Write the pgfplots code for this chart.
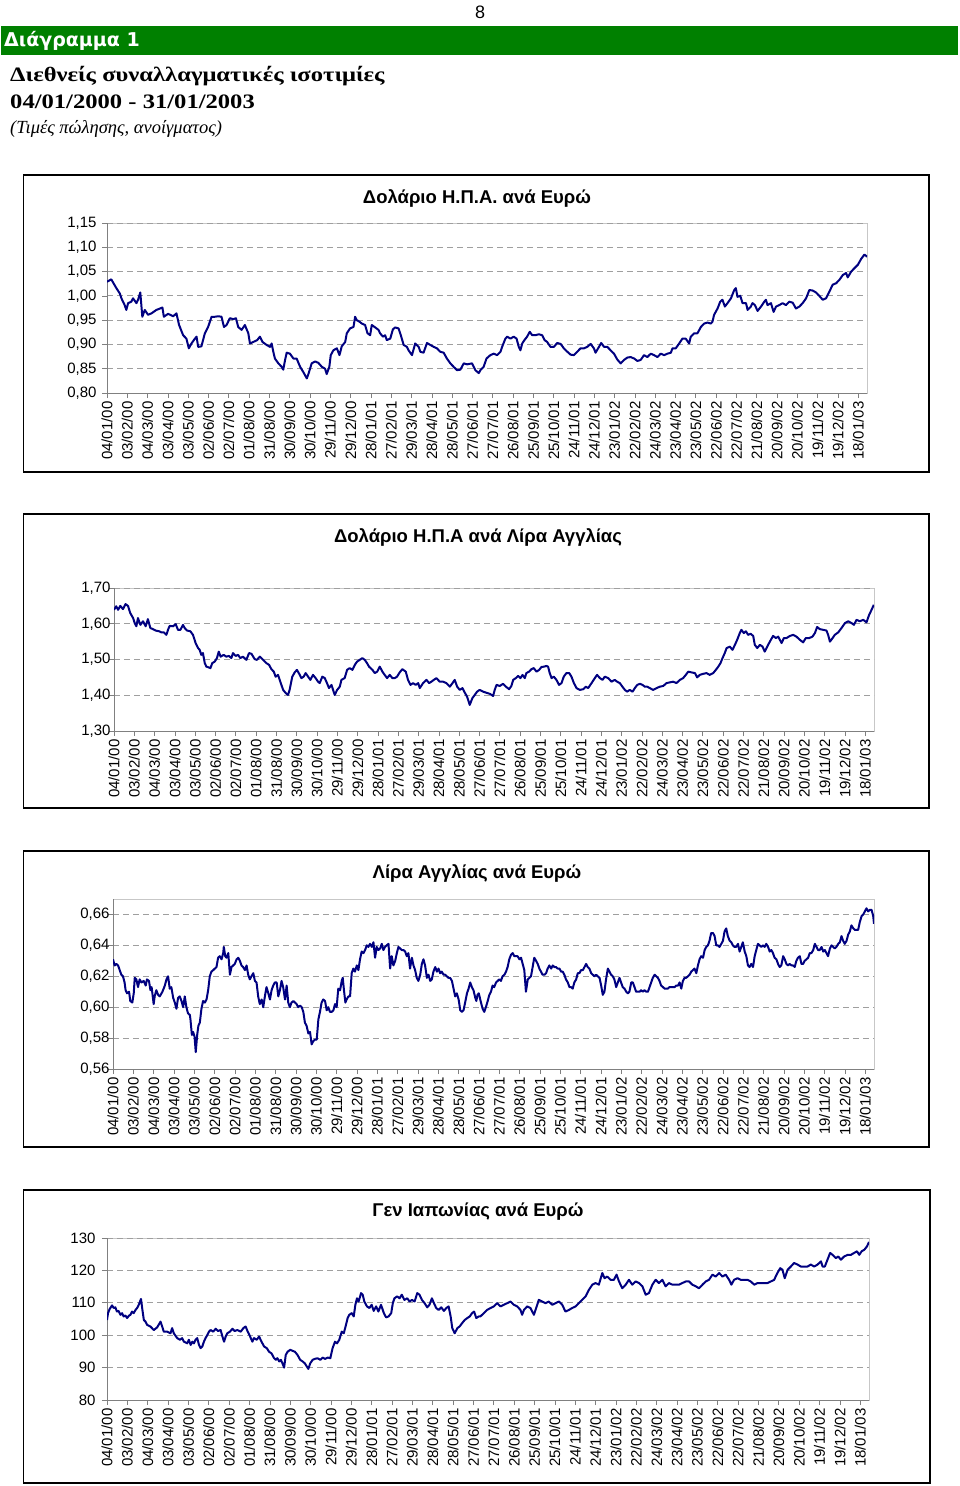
\documentclass[border=0pt]{standalone}
\usepackage{fontspec}
\usepackage{pgfplots}
\pgfplotsset{compat=1.18}

\newfontfamily\arial{Liberation Sans}
\newfontfamily\dejavu{DejaVu Sans}
\newfontfamily\tnr[FakeStretch=1.2]{Liberation Serif}
\newfontfamily\tnri{Liberation Serif}
\newcommand\tickfont{\arial\fontsize{15}{15}\selectfont}
\newcommand\titlefont{\arial\bfseries\fontsize{18.5}{18.5}\selectfont}

\definecolor{navy}{RGB}{0,0,128}
\definecolor{hdrgreen}{RGB}{0,128,0}

\pgfplotsset{
  fx/.style={
    scale only axis, width=760pt,
    xmin=0, xmax=37.43,
    axis x line*=bottom, axis y line*=left,
    axis line style={-, draw=gray, line width=0.8pt},
    axis background/.style={draw=black!22, line width=0.8pt},
    tick pos=left, tick align=outside, major tick length=5pt,
    tick style={draw=gray, line width=0.7pt},
    ymajorgrids,
    major grid style={draw=gray!75, line width=0.8pt, dash pattern=on 6pt off 4pt},
    xtick={0,...,37},
    xticklabels={04/01/00,03/02/00,04/03/00,03/04/00,03/05/00,02/06/00,02/07/00,01/08/00,31/08/00,30/09/00,30/10/00,29/11/00,29/12/00,28/01/01,27/02/01,29/03/01,28/04/01,28/05/01,27/06/01,27/07/01,26/08/01,25/09/01,25/10/01,24/11/01,24/12/01,23/01/02,22/02/02,24/03/02,23/04/02,23/05/02,22/06/02,22/07/02,21/08/02,20/09/02,20/10/02,19/11/02,19/12/02,18/01/03},
    xticklabel style={rotate=90, anchor=east},
    tick label style={font=\tickfont},
    /pgf/number format/assume math mode=true,
    /pgf/number format/use comma,
    /pgf/number format/fixed,
    /pgf/number format/fixed zerofill,
    /pgf/number format/precision=2,
  },
  fxline/.style={draw=navy, line width=2pt, line join=round, mark=none},
}

\begin{document}
\begin{tikzpicture}[x=1pt,y=1pt]
\path[use as bounding box] (0,0) rectangle (960,-1486);

% header
\node[font=\arial\fontsize{18}{18}\selectfont] at (480,-12) {8};
\fill[hdrgreen] (1,-26) rectangle (958,-55);
\node[anchor=base west, inner sep=0, text=white, font=\dejavu\bfseries\fontsize{19}{19}\selectfont] at (4,-46.5) {Διάγραμμα 1};
\node[anchor=base west, inner sep=0, font=\tnr\bfseries\fontsize{20.5}{20.5}\selectfont] at (10,-81.5) {Διεθνείς συναλλαγματικές ισοτιμίες};
\node[anchor=base west, inner sep=0, font=\tnr\bfseries\fontsize{20.5}{20.5}\selectfont] at (10,-108.3) {04/01/2000 - 31/01/2003};
\node[anchor=base west, inner sep=0, font=\tnri\itshape\fontsize{18.5}{18.5}\selectfont] at (10,-133) {(Τιμές πώλησης, ανοίγματος)};

% frames
\draw[line width=1.6pt] (23.5,-175) rectangle (929,-472);
\draw[line width=1.6pt] (23.5,-514) rectangle (929,-808);
\draw[line width=1.6pt] (23.5,-851) rectangle (929,-1147);
\draw[line width=1.6pt] (23.5,-1190) rectangle (930,-1483);

% titles
\node[font=\titlefont] at (477,-198) {Δολάριο Η.Π.Α. ανά Ευρώ};
\node[font=\titlefont] at (478,-537) {Δολάριο Η.Π.Α ανά Λίρα Αγγλίας};
\node[font=\titlefont] at (477,-873) {Λίρα Αγγλίας ανά Ευρώ};
\node[font=\titlefont] at (478,-1212) {Γεν Ιαπωνίας ανά Ευρώ};

% --- USD per EUR
\begin{axis}[fx, at={(107pt,-393pt)}, height=170pt,
  ymin=0.80, ymax=1.15, ytick={0.80,0.85,0.90,0.95,1.00,1.05,1.10,1.15},
  yticklabel style={xshift=-2pt}]
\addplot[fxline] coordinates {
(0,1.029)(0.21,1.034)(0.46,1.016)(0.63,1.005)(0.71,0.995)(0.87,0.981)(0.95,0.971)(1.04,0.985)(1.20,0.988)(1.28,0.995)
(1.45,0.985)(1.53,0.992)(1.64,1.007)(1.74,0.957)(1.86,0.971)(2.02,0.961)(2.19,0.964)(2.43,0.971)(2.73,0.976)(2.80,0.957)
(3.01,0.963)(3.26,0.958)(3.42,0.964)(3.55,0.940)(3.75,0.919)(3.91,0.912)(4.03,0.892)(4.16,0.902)(4.33,0.912)(4.41,0.916)
(4.49,0.895)(4.65,0.896)(4.82,0.923)(4.98,0.936)(5.15,0.957)(5.31,0.957)(5.48,0.958)(5.64,0.957)(5.76,0.936)(5.89,0.940)
(6.05,0.954)(6.22,0.952)(6.35,0.954)(6.46,0.936)(6.63,0.930)(6.79,0.940)(6.96,0.923)(7.04,0.902)(7.20,0.905)(7.40,0.909)
(7.53,0.916)(7.66,0.905)(7.86,0.899)(8.03,0.895)(8.11,0.902)(8.19,0.885)(8.27,0.871)(8.44,0.861)(8.60,0.854)(8.68,0.848)
(8.77,0.868)(8.85,0.883)(9.01,0.881)(9.18,0.871)(9.34,0.871)(9.51,0.854)(9.67,0.843)(9.84,0.830)(9.92,0.839)(10.08,0.861)
(10.25,0.865)(10.41,0.862)(10.58,0.854)(10.74,0.850)(10.82,0.839)(10.95,0.854)(11.02,0.878)(11.15,0.888)(11.32,0.892)(11.45,0.878)
(11.56,0.896)(11.73,0.905)(11.81,0.923)(11.97,0.933)(12.14,0.936)(12.22,0.957)(12.30,0.950)(12.43,0.947)(12.55,0.943)(12.71,0.940)
(12.83,0.923)(12.96,0.919)(13.04,0.940)(13.21,0.935)(13.37,0.930)(13.45,0.923)(13.59,0.916)(13.70,0.919)(13.78,0.909)(13.95,0.912)
(14.08,0.931)(14.19,0.935)(14.36,0.933)(14.47,0.919)(14.61,0.899)(14.77,0.895)(14.85,0.888)(15.02,0.878)(15.18,0.902)(15.35,0.895)
(15.43,0.885)(15.59,0.883)(15.76,0.903)(15.92,0.899)(16.09,0.895)(16.25,0.892)(16.41,0.885)(16.58,0.883)(16.74,0.871)(16.91,0.861)
(17.07,0.854)(17.24,0.847)(17.40,0.848)(17.57,0.861)(17.73,0.859)(17.98,0.861)(18.14,0.847)(18.31,0.841)
(18.39,0.847)(18.55,0.854)(18.69,0.871)(18.88,0.878)(19.05,0.881)(19.21,0.878)(19.38,0.885)(19.46,0.895)(19.62,0.912)(19.71,0.916)
(19.87,0.912)(20.03,0.916)(20.17,0.912)(20.28,0.895)(20.36,0.888)(20.45,0.902)(20.56,0.909)(20.69,0.916)(20.82,0.926)(20.94,0.919)
(21.10,0.919)(21.27,0.921)(21.43,0.919)(21.55,0.909)(21.68,0.905)(21.84,0.895)(22.01,0.895)(22.17,0.903)(22.34,0.901)(22.50,0.892)
(22.67,0.885)(22.83,0.879)(22.99,0.878)(23.16,0.885)(23.32,0.892)(23.49,0.892)(23.65,0.895)(23.82,0.901)(23.98,0.892)(24.06,0.883)
(24.23,0.895)(24.34,0.903)(24.48,0.895)(24.64,0.895)(24.80,0.888)(24.97,0.881)(25.13,0.869)(25.30,0.861)(25.46,0.868)(25.63,0.873)
(25.79,0.874)(25.96,0.871)(26.12,0.866)(26.28,0.868)(26.45,0.878)(26.61,0.874)(26.78,0.881)(26.94,0.878)(27.11,0.874)(27.27,0.881)
(27.44,0.878)(27.60,0.881)(27.77,0.883)(27.85,0.892)(28.01,0.892)(28.18,0.902)(28.34,0.912)(28.50,0.912)(28.67,0.902)(28.75,0.916)
(28.92,0.923)(29.08,0.923)(29.25,0.936)(29.41,0.943)(29.57,0.945)(29.74,0.943)(29.82,0.947)(29.90,0.961)(30.07,0.974)(30.20,0.988)
(30.31,0.992)(30.43,0.978)(30.56,0.985)(30.73,0.995)(30.89,1.012)(30.97,1.016)(31.05,0.998)(31.19,1.000)(31.30,0.985)(31.47,0.985)
(31.55,0.971)(31.71,0.978)(31.79,0.985)(31.91,0.981)(32.04,0.969)(32.21,0.978)(32.37,0.988)(32.45,0.992)(32.53,0.981)(32.70,0.985)
(32.83,0.967)(32.95,0.978)(33.11,0.981)(33.27,0.985)(33.44,0.981)(33.60,0.988)(33.77,0.986)(33.93,0.974)(34.10,0.978)(34.26,0.985)
(34.43,0.995)(34.59,1.012)(34.75,1.011)(34.92,1.007)(35.08,1.000)(35.25,0.992)(35.41,0.995)(35.58,1.009)(35.74,1.023)(35.91,1.026)
(36.07,1.033)(36.24,1.043)(36.40,1.047)(36.48,1.038)(36.65,1.050)(36.81,1.057)(36.98,1.064)(37.14,1.076)(37.30,1.085)(37.40,1.082)
(37.43,1.080)
};
\end{axis}

% --- USD per GBP
\begin{axis}[fx, at={(114pt,-731pt)}, height=143pt,
  ymin=1.30, ymax=1.70, ytick={1.30,1.40,1.50,1.60,1.70},
  yticklabel style={xshift=5pt}]
\addplot[fxline] coordinates {
(0,1.639)(0.11,1.649)(0.20,1.639)(0.31,1.650)(0.44,1.641)(0.57,1.655)(0.69,1.650)(0.80,1.630)(0.94,1.616)(1.02,1.602)
(1.10,1.593)(1.18,1.616)(1.30,1.597)(1.43,1.607)(1.56,1.593)(1.67,1.613)(1.79,1.588)(1.92,1.585)(2.05,1.581)(2.22,1.579)
(2.33,1.576)(2.45,1.576)(2.58,1.569)(2.66,1.583)(2.74,1.594)(2.91,1.593)(3.04,1.599)(3.15,1.583)(3.27,1.583)(3.40,1.597)
(3.48,1.588)(3.60,1.581)(3.76,1.579)(3.89,1.569)(4.02,1.546)(4.14,1.532)(4.22,1.527)(4.30,1.513)(4.38,1.518)(4.47,1.490)
(4.55,1.480)(4.66,1.478)(4.75,1.476)(4.84,1.490)(4.96,1.494)(5.07,1.504)(5.16,1.522)(5.25,1.508)(5.40,1.513)(5.53,1.508)
(5.66,1.510)(5.78,1.504)(5.86,1.518)(5.99,1.510)(6.11,1.513)(6.22,1.504)(6.35,1.508)(6.52,1.499)(6.65,1.518)(6.77,1.516)
(6.93,1.501)(7.04,1.499)(7.18,1.508)(7.31,1.501)(7.50,1.490)(7.64,1.485)(7.75,1.473)(7.87,1.466)(7.96,1.452)(8.08,1.457)
(8.19,1.438)(8.33,1.415)(8.46,1.406)(8.57,1.401)(8.65,1.415)(8.78,1.452)(8.90,1.464)(9.01,1.471)(9.15,1.457)(9.23,1.448)
(9.34,1.452)(9.44,1.462)(9.56,1.452)(9.67,1.443)(9.80,1.457)(9.93,1.448)(10.05,1.438)(10.13,1.434)(10.26,1.452)(10.38,1.448)
(10.49,1.434)(10.59,1.420)(10.71,1.429)(10.79,1.415)(10.87,1.401)(10.99,1.415)(11.12,1.424)(11.20,1.443)(11.36,1.448)(11.48,1.471)
(11.61,1.476)(11.74,1.471)(11.86,1.485)(11.97,1.494)(12.10,1.499)(12.23,1.504)(12.35,1.499)(12.46,1.490)(12.56,1.480)(12.73,1.471)
(12.84,1.462)(12.96,1.466)(13.09,1.480)(13.22,1.466)(13.33,1.457)(13.45,1.448)(13.58,1.457)(13.71,1.448)(13.83,1.448)(13.94,1.452)
(14.07,1.464)(14.20,1.473)(14.37,1.466)(14.48,1.443)(14.60,1.429)(14.73,1.434)(14.86,1.429)(14.98,1.434)(15.06,1.420)(15.22,1.434)
(15.39,1.443)(15.52,1.434)(15.63,1.438)(15.75,1.443)(15.88,1.448)(16.04,1.438)(16.21,1.438)(16.37,1.434)(16.54,1.424)(16.67,1.434)
(16.78,1.443)(16.90,1.424)(17.03,1.415)(17.16,1.420)(17.27,1.408)(17.39,1.396)(17.52,1.373)(17.65,1.392)(17.77,1.401)(17.88,1.410)
(18.01,1.415)(18.18,1.410)(18.34,1.407)(18.51,1.404)(18.67,1.398)(18.75,1.415)(18.84,1.429)(19.00,1.426)(19.16,1.432)(19.30,1.424)
(19.46,1.417)(19.57,1.426)(19.66,1.443)(19.79,1.448)(19.90,1.454)(20.02,1.448)(20.12,1.457)(20.23,1.448)(20.31,1.462)(20.44,1.466)
(20.56,1.473)(20.67,1.476)(20.81,1.466)(20.94,1.471)(21.05,1.479)(21.17,1.480)(21.30,1.482)(21.38,1.480)(21.46,1.462)(21.55,1.448)
(21.66,1.452)(21.79,1.443)(21.92,1.429)(22.04,1.434)(22.15,1.452)(22.28,1.462)(22.42,1.462)(22.53,1.452)(22.65,1.434)(22.78,1.420)
(22.94,1.415)(23.11,1.417)(23.24,1.424)(23.35,1.420)(23.52,1.434)(23.68,1.448)(23.79,1.457)(23.93,1.448)(24.06,1.443)(24.17,1.452)
(24.34,1.448)(24.50,1.438)(24.66,1.443)(24.78,1.438)(24.91,1.434)(25.04,1.424)(25.16,1.415)(25.27,1.410)(25.40,1.415)(25.54,1.410)
(25.65,1.420)(25.77,1.429)(25.90,1.432)(26.03,1.429)(26.14,1.424)(26.26,1.424)(26.39,1.420)(26.55,1.415)(26.72,1.420)(26.88,1.424)
(27.05,1.426)(27.21,1.434)(27.37,1.436)(27.54,1.438)(27.70,1.434)(27.87,1.443)(28.03,1.448)(28.16,1.457)(28.28,1.466)(28.44,1.464)
(28.61,1.462)(28.72,1.450)(28.85,1.457)(29.02,1.460)(29.18,1.462)(29.34,1.457)(29.51,1.462)(29.64,1.471)(29.76,1.480)(29.87,1.490)
(29.97,1.504)(30.08,1.518)(30.17,1.532)(30.33,1.536)(30.46,1.527)(30.58,1.541)(30.69,1.555)(30.82,1.574)(30.90,1.583)(31.02,1.574)
(31.12,1.579)(31.23,1.569)(31.35,1.572)(31.48,1.566)(31.56,1.541)(31.68,1.532)(31.81,1.541)(31.94,1.536)(32.05,1.522)(32.17,1.536)
(32.30,1.550)(32.46,1.566)(32.60,1.560)(32.71,1.564)(32.88,1.546)(32.99,1.560)(33.12,1.560)(33.29,1.566)(33.45,1.569)(33.61,1.564)
(33.78,1.555)(33.94,1.548)(34.07,1.560)(34.24,1.560)(34.40,1.564)(34.52,1.574)(34.63,1.591)(34.76,1.585)(34.93,1.583)(35.09,1.581)
(35.17,1.569)(35.26,1.550)(35.39,1.560)(35.50,1.569)(35.67,1.576)(35.83,1.588)(36.00,1.602)(36.16,1.607)(36.32,1.602)(36.44,1.597)
(36.57,1.611)(36.73,1.607)(36.90,1.611)(37.06,1.604)(37.19,1.625)(37.31,1.639)(37.42,1.653)
};
\end{axis}

% --- GBP per EUR
\begin{axis}[fx, at={(113pt,-1069pt)}, height=170pt, width=761pt,
  ymin=0.56, ymax=0.67, ytick={0.56,0.58,0.60,0.62,0.64,0.66},
  yticklabel style={xshift=5pt}]
\addplot[fxline] coordinates {
(0.00,0.631)(0.08,0.627)(0.16,0.628)(0.25,0.627)(0.33,0.624)(0.41,0.621)(0.49,0.620)(0.57,0.616)(0.62,0.611)(0.69,0.609)
(0.79,0.610)(0.85,0.604)(0.95,0.603)(1.02,0.609)(1.07,0.619)(1.15,0.618)(1.23,0.613)(1.31,0.618)(1.40,0.616)(1.51,0.617)
(1.61,0.614)(1.67,0.618)(1.77,0.617)(1.84,0.611)(1.90,0.613)(2.00,0.602)(2.05,0.607)(2.13,0.611)(2.22,0.608)(2.30,0.607)
(2.43,0.610)(2.55,0.614)(2.63,0.618)(2.71,0.620)(2.79,0.612)(2.87,0.613)(2.96,0.606)(3.04,0.603)(3.12,0.599)(3.20,0.606)
(3.28,0.607)(3.37,0.604)(3.45,0.600)(3.53,0.607)(3.61,0.600)(3.69,0.596)(3.78,0.595)(3.81,0.592)(3.88,0.582)(3.94,0.584)
(4.01,0.581)(4.07,0.571)(4.14,0.582)(4.20,0.588)(4.27,0.590)(4.35,0.599)(4.43,0.604)(4.52,0.603)(4.60,0.605)(4.68,0.611)
(4.76,0.620)(4.84,0.623)(4.93,0.624)(5.01,0.625)(5.09,0.626)(5.17,0.632)(5.25,0.633)(5.34,0.631)(5.42,0.635)(5.45,0.639)
(5.52,0.633)(5.58,0.632)(5.67,0.635)(5.75,0.621)(5.83,0.626)(5.91,0.627)(5.99,0.628)(6.08,0.631)(6.16,0.632)(6.24,0.630)
(6.32,0.627)(6.40,0.626)(6.49,0.624)(6.57,0.627)(6.65,0.621)(6.73,0.618)(6.81,0.620)(6.90,0.622)(6.98,0.617)(7.06,0.616)
(7.14,0.607)(7.22,0.602)(7.31,0.605)(7.39,0.600)(7.47,0.607)(7.55,0.613)(7.64,0.609)(7.72,0.605)(7.80,0.611)(7.88,0.614)
(7.96,0.616)(8.05,0.616)(8.13,0.607)(8.21,0.611)(8.29,0.617)(8.37,0.613)(8.46,0.605)(8.54,0.614)(8.62,0.603)(8.70,0.600)
(8.78,0.603)(8.87,0.604)(8.95,0.603)(9.03,0.602)(9.11,0.600)(9.20,0.601)(9.28,0.600)(9.36,0.597)(9.44,0.590)(9.52,0.588)
(9.61,0.583)(9.69,0.584)(9.77,0.576)(9.85,0.578)(9.93,0.579)(10.02,0.579)(10.10,0.592)(10.18,0.597)(10.26,0.603)(10.34,0.605)
(10.43,0.604)(10.51,0.598)(10.59,0.600)(10.67,0.597)(10.76,0.597)(10.84,0.598)(10.92,0.602)(11.00,0.600)(11.08,0.612)(11.17,0.611)
(11.25,0.617)(11.30,0.619)(11.36,0.611)(11.43,0.603)(11.49,0.605)(11.58,0.607)(11.66,0.607)(11.74,0.622)(11.82,0.625)(11.90,0.623)
(11.99,0.627)(12.07,0.624)(12.15,0.631)(12.23,0.636)(12.32,0.635)(12.40,0.637)(12.48,0.640)(12.56,0.639)(12.64,0.641)(12.73,0.639)
(12.81,0.642)(12.89,0.632)(12.97,0.639)(13.05,0.637)(13.14,0.638)(13.22,0.641)(13.30,0.637)(13.38,0.639)(13.46,0.640)(13.55,0.641)
(13.63,0.625)(13.71,0.633)(13.79,0.627)(13.88,0.630)(13.96,0.635)(14.04,0.639)(14.12,0.638)(14.20,0.637)(14.29,0.637)(14.37,0.636)
(14.45,0.633)(14.53,0.635)(14.61,0.625)(14.70,0.632)(14.78,0.627)(14.86,0.624)(14.94,0.619)(15.02,0.617)(15.11,0.621)(15.19,0.628)
(15.27,0.631)(15.35,0.627)(15.44,0.619)(15.52,0.621)(15.60,0.617)(15.68,0.618)(15.76,0.623)(15.85,0.626)(15.93,0.623)(16.01,0.625)
(16.09,0.622)(16.17,0.623)(16.26,0.621)(16.34,0.621)(16.42,0.620)(16.50,0.619)(16.58,0.619)(16.67,0.617)(16.75,0.612)(16.83,0.607)
(16.91,0.609)(17.00,0.605)(17.08,0.598)(17.16,0.597)(17.24,0.598)(17.32,0.603)(17.41,0.609)(17.49,0.612)(17.57,0.616)(17.65,0.613)
(17.73,0.611)(17.82,0.606)(17.87,0.604)(17.93,0.608)(17.99,0.609)
(18.10,0.603)(18.18,0.599)(18.26,0.597)(18.34,0.600)(18.43,0.604)(18.51,0.608)(18.59,0.610)(18.67,0.614)(18.75,0.613)(18.84,0.616)
(18.92,0.617)(19.00,0.618)(19.08,0.617)(19.16,0.620)(19.25,0.621)(19.33,0.623)(19.41,0.626)(19.49,0.631)(19.58,0.634)(19.66,0.635)
(19.74,0.633)(19.82,0.633)(19.90,0.633)(19.99,0.631)(20.07,0.632)(20.15,0.628)(20.23,0.624)(20.31,0.610)(20.40,0.618)(20.48,0.619)
(20.56,0.620)(20.64,0.626)(20.72,0.632)(20.81,0.630)(20.89,0.628)(20.97,0.625)(21.05,0.623)(21.13,0.621)(21.22,0.621)(21.30,0.622)
(21.38,0.625)(21.46,0.627)(21.55,0.625)(21.63,0.627)(21.71,0.626)(21.79,0.626)(21.87,0.625)(21.96,0.625)(22.04,0.623)(22.12,0.623)
(22.20,0.621)(22.28,0.618)(22.37,0.616)(22.45,0.613)(22.53,0.613)(22.61,0.612)(22.69,0.616)(22.78,0.618)(22.86,0.622)(22.94,0.622)
(23.02,0.624)(23.11,0.624)(23.19,0.626)(23.27,0.628)(23.35,0.626)(23.43,0.625)(23.52,0.622)(23.60,0.621)(23.68,0.620)(23.76,0.621)
(23.84,0.620)(23.93,0.619)(24.01,0.614)(24.09,0.608)(24.17,0.610)(24.25,0.618)(24.34,0.625)(24.42,0.623)(24.50,0.621)(24.58,0.620)
(24.66,0.618)(24.75,0.613)(24.83,0.616)(24.91,0.619)(24.99,0.616)(25.07,0.613)(25.16,0.612)(25.24,0.610)(25.32,0.609)(25.40,0.610)
(25.49,0.616)(25.57,0.616)(25.65,0.613)(25.73,0.610)(25.81,0.610)(25.90,0.610)(25.98,0.611)(26.06,0.610)(26.14,0.611)(26.23,0.610)
(26.31,0.610)(26.39,0.613)(26.47,0.616)(26.55,0.619)(26.64,0.621)(26.72,0.620)(26.80,0.619)(26.88,0.617)(26.96,0.614)(27.05,0.613)
(27.13,0.612)(27.21,0.612)(27.29,0.612)(27.37,0.613)(27.46,0.613)(27.54,0.613)(27.62,0.613)(27.70,0.614)(27.79,0.614)(27.87,0.616)
(27.95,0.612)(28.03,0.617)(28.11,0.619)(28.19,0.619)(28.28,0.620)(28.36,0.621)(28.44,0.623)(28.52,0.624)(28.60,0.625)(28.69,0.622)
(28.77,0.627)(28.85,0.631)(28.93,0.633)(29.02,0.632)(29.10,0.637)(29.18,0.639)(29.26,0.640)(29.34,0.643)(29.42,0.648)(29.51,0.648)
(29.59,0.646)(29.67,0.640)(29.75,0.640)(29.83,0.639)(29.92,0.641)(30.00,0.643)(30.08,0.649)(30.16,0.651)(30.24,0.646)(30.33,0.643)
(30.41,0.642)(30.49,0.640)(30.57,0.639)(30.65,0.639)(30.74,0.641)(30.82,0.636)(30.90,0.639)(30.98,0.642)(31.07,0.636)(31.15,0.633)
(31.23,0.627)(31.31,0.626)(31.39,0.628)(31.48,0.626)(31.56,0.633)(31.64,0.637)(31.72,0.641)(31.80,0.640)(31.89,0.639)(31.97,0.640)
(32.05,0.639)(32.13,0.641)(32.22,0.639)(32.30,0.636)(32.38,0.637)(32.46,0.635)(32.54,0.632)(32.63,0.631)(32.71,0.628)(32.79,0.626)
(32.87,0.627)(32.96,0.633)(33.04,0.631)(33.12,0.628)(33.20,0.627)(33.28,0.628)(33.37,0.627)(33.45,0.627)(33.53,0.626)(33.61,0.630)
(33.69,0.632)(33.78,0.633)(33.86,0.628)(33.94,0.628)(34.02,0.630)(34.11,0.631)(34.19,0.632)(34.27,0.635)(34.35,0.635)(34.44,0.637)
(34.52,0.641)(34.60,0.639)(34.68,0.637)(34.76,0.637)(34.85,0.639)(34.93,0.636)(35.01,0.637)(35.09,0.635)(35.17,0.633)(35.26,0.638)
(35.34,0.640)(35.42,0.639)(35.50,0.638)(35.58,0.639)(35.67,0.641)(35.75,0.642)(35.83,0.646)(35.91,0.643)(35.99,0.641)(36.08,0.643)
(36.16,0.647)(36.24,0.649)(36.32,0.653)(36.41,0.651)(36.49,0.650)(36.57,0.650)(36.65,0.650)(36.73,0.655)(36.82,0.659)(36.90,0.660)
(36.98,0.662)(37.06,0.664)(37.14,0.662)(37.23,0.663)(37.31,0.663)(37.39,0.659)(37.43,0.654)
};
\end{axis}

% --- JPY per EUR
\begin{axis}[fx, at={(107pt,-1400pt)}, height=162pt, width=762pt,
  ymin=80, ymax=130, ytick={80,90,100,110,120,130},
  /pgf/number format/fixed zerofill=false, /pgf/number format/precision=0,
  yticklabel style={xshift=-3pt}]
\addplot[fxline] coordinates {
(0.00,104.7)(0.05,106.8)(0.13,108.1)(0.25,109.2)(0.33,108.4)(0.41,108.6)(0.49,107.3)(0.57,107.5)(0.66,106.3)(0.74,106.8)
(0.82,105.8)(0.90,106.1)(0.99,105.3)(1.07,106.0)(1.15,106.3)(1.23,107.3)(1.31,106.8)(1.40,107.8)(1.48,108.4)(1.56,109.4)
(1.67,111.2)(1.74,107.8)(1.81,104.7)(1.89,104.2)(1.97,103.2)(2.13,102.7)(2.30,101.6)(2.46,102.4)(2.63,104.2)(2.71,102.7)
(2.79,101.1)(2.96,101.1)(3.12,100.6)(3.20,102.2)(3.28,100.6)(3.45,99.1)(3.58,98.6)(3.69,99.1)(3.78,98.0)(3.94,97.5)
(4.02,98.6)(4.11,97.0)(4.19,98.0)(4.27,97.5)(4.35,98.6)(4.43,99.1)(4.52,97.0)(4.60,96.0)(4.68,96.5)(4.76,98.0)
(4.84,99.1)(4.93,100.1)(5.01,101.1)(5.09,101.6)(5.22,101.1)(5.34,102.0)(5.45,101.3)(5.58,101.6)(5.67,99.6)(5.75,98.0)
(5.83,99.6)(5.91,100.6)(6.04,101.1)(6.16,102.0)(6.27,101.3)(6.40,101.6)(6.57,101.1)(6.70,102.2)(6.81,102.7)(6.90,101.3)
(7.03,99.6)(7.14,98.0)(7.22,99.1)(7.36,98.6)(7.47,99.6)(7.59,98.0)(7.72,96.5)(7.85,96.0)(7.96,94.9)(8.08,94.4)
(8.21,92.9)(8.29,92.4)(8.37,92.9)(8.46,91.9)(8.54,92.4)(8.62,91.3)(8.70,90.0)(8.78,93.9)(8.87,94.9)(9.00,95.5)
(9.11,95.2)(9.23,94.9)(9.36,93.9)(9.49,92.4)(9.61,91.9)(9.72,91.3)(9.82,90.3)(9.89,89.6)(9.98,91.3)(10.10,92.4)
(10.21,92.7)(10.34,92.9)(10.48,92.4)(10.59,93.1)(10.71,92.7)(10.84,93.1)(10.97,92.9)(11.08,96.0)(11.20,98.0)(11.30,97.5)
(11.41,98.6)(11.53,101.1)(11.63,100.6)(11.74,103.2)(11.82,105.3)(11.90,106.3)(12.02,106.8)(12.12,105.8)(12.20,109.4)(12.28,111.4)
(12.36,110.4)(12.48,113.0)(12.56,112.5)(12.64,110.4)(12.77,108.9)(12.89,108.4)(13.00,109.4)(13.10,107.5)(13.22,108.9)(13.33,107.3)
(13.46,109.4)(13.60,106.8)(13.71,105.5)(13.83,105.8)(13.96,106.8)(14.04,109.9)(14.12,111.4)(14.25,112.0)(14.37,111.4)(14.48,112.5)
(14.61,110.9)(14.75,111.4)(14.86,110.4)(14.98,110.9)(15.11,110.4)(15.24,113.0)(15.35,112.5)(15.47,110.9)(15.60,109.9)(15.73,108.6)
(15.84,109.4)(15.96,111.4)(16.06,109.9)(16.17,108.4)(16.29,107.8)(16.42,108.6)(16.55,107.5)(16.67,108.4)(16.78,108.9)(16.88,105.8)
(16.96,102.2)(17.08,100.6)(17.21,102.2)(17.32,102.7)(17.44,103.7)(17.57,104.7)(17.70,105.3)(17.82,105.8)(17.93,106.8)(18.03,107.3)
(18.14,105.3)(18.26,105.8)
(18.34,105.8)(18.51,106.8)(18.67,107.8)(18.84,108.4)(19.00,108.9)(19.16,109.9)(19.33,108.9)(19.49,109.4)(19.66,109.9)(19.82,110.4)
(19.98,109.4)(20.15,108.9)(20.31,107.8)(20.39,106.3)(20.48,107.8)(20.64,108.9)(20.80,108.4)(20.97,106.3)(21.05,107.8)(21.21,110.9)
(21.38,110.4)(21.54,109.9)(21.70,110.4)(21.87,109.4)(22.03,109.9)(22.20,110.4)(22.36,109.4)(22.52,107.3)(22.69,107.8)(22.85,108.4)
(23.02,108.9)(23.18,109.9)(23.34,110.9)(23.51,112.0)(23.67,114.0)(23.84,115.6)(24.00,116.1)(24.16,115.6)(24.33,119.2)(24.44,117.6)
(24.57,118.1)(24.74,117.1)(24.90,117.1)(25.03,118.7)(25.15,116.6)(25.31,114.5)(25.48,115.6)(25.64,117.1)(25.80,115.6)(25.97,116.6)
(26.13,116.1)(26.30,115.1)(26.46,112.5)(26.62,113.0)(26.79,115.6)(26.95,117.1)(27.11,116.1)(27.28,117.1)(27.44,115.1)(27.61,116.1)
(27.77,115.6)(27.93,115.6)(28.10,115.6)(28.26,116.1)(28.43,116.6)(28.59,116.6)(28.75,115.6)(28.92,115.1)(29.08,114.5)(29.25,115.6)
(29.41,116.6)(29.57,117.1)(29.74,118.7)(29.90,118.1)(30.07,119.2)(30.23,118.1)(30.39,118.7)(30.56,117.1)(30.67,115.6)(30.80,117.1)
(30.97,117.6)(31.13,117.1)(31.30,117.1)(31.46,117.1)(31.62,116.6)(31.79,115.6)(31.95,116.1)(32.11,116.1)(32.28,116.1)(32.44,116.1)
(32.61,116.6)(32.77,117.1)(32.93,119.2)(33.07,120.7)(33.18,120.2)(33.29,117.6)(33.43,120.2)(33.59,121.2)(33.75,122.3)(33.92,121.8)
(34.08,121.2)(34.25,121.2)(34.41,121.2)(34.57,121.8)(34.74,121.2)(34.90,121.8)(35.07,122.8)(35.15,121.2)(35.26,121.2)(35.39,123.3)
(35.52,125.4)(35.64,124.8)(35.80,123.8)(35.92,124.3)(36.05,123.3)(36.21,124.3)(36.38,124.8)(36.54,124.8)(36.70,125.4)(36.84,125.9)
(36.95,124.8)(37.07,125.9)(37.20,126.4)(37.33,127.4)(37.43,128.8)
};
\end{axis}
\end{tikzpicture}
\end{document}
